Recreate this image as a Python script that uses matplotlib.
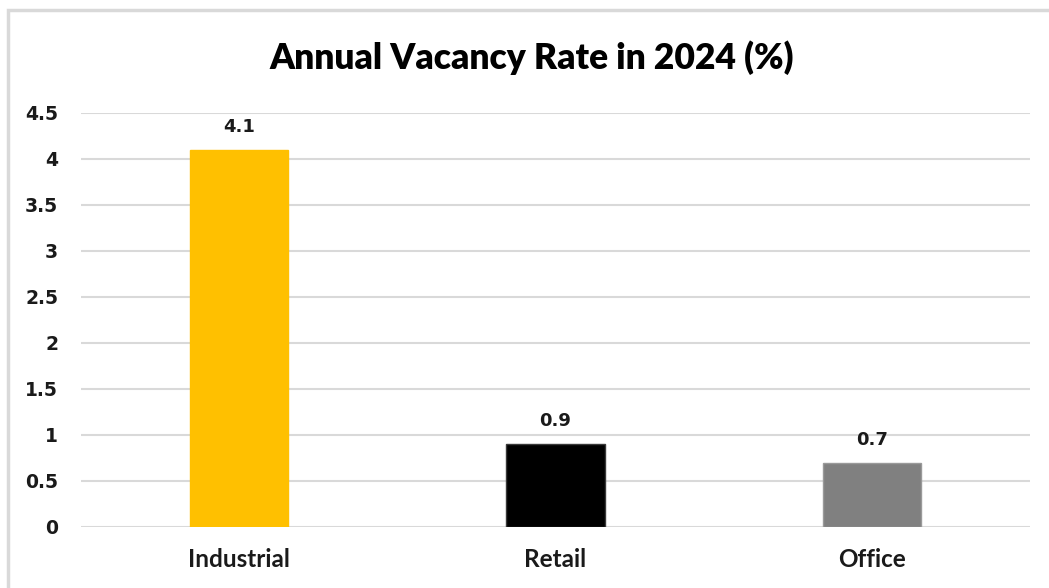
import matplotlib
matplotlib.use("Agg")
import matplotlib.pyplot as plt
from matplotlib.patches import Rectangle

categories = ["Industrial", "Retail", "Office"]
values = [4.1, 0.9, 0.7]
colors = ["#FFC000", "#000000", "#808080"]
edge_colors = ["#FFC000", "#3a3a3a", "#9a9a9a"]
yticks = [0, 0.5, 1, 1.5, 2, 2.5, 3, 3.5, 4, 4.5]
ytick_labels = ["0", "0.5", "1", "1.5", "2", "2.5", "3", "3.5", "4", "4.5"]
title = "Annual Vacancy Rate in 2024 (%)"

W, H = 1049, 588
fig = plt.figure(figsize=(W / 100, H / 100), dpi=100)
fig.patch.set_facecolor("white")

# outer border (top & left visible, continues off-canvas)
fig.patches.append(Rectangle((8 / W, -0.1), 1.2, 1 - 10 / H + 0.1,
                             transform=fig.transFigure, fill=False,
                             edgecolor="#d9d9d9", linewidth=2.5))

ax = fig.add_axes([81 / W, 1 - 527 / H, (1030 - 81) / W, (527 - 113) / H])
x = list(range(len(categories)))
bars = ax.bar(x, values, width=0.31, color=colors, edgecolor=edge_colors,
              linewidth=1, zorder=3)

ax.set_xlim(-0.5, 2.5)
ax.set_ylim(0, 4.5)
ax.set_yticks(yticks)
ax.set_yticklabels(ytick_labels, fontsize=13.5, fontweight="bold",
                   family="DejaVu Sans", color="#1a1a1a")
ax.set_xticks(x)
ax.set_xticklabels(categories, fontsize=17.5, fontweight="bold",
                   family="Lato", color="#1a1a1a")
ax.tick_params(axis="both", length=0)
ax.tick_params(axis="y", pad=16.5)
ax.tick_params(axis="x", pad=15)

ax.grid(axis="y", color="#d9d9d9", linewidth=1.5, zorder=0)
ax.set_axisbelow(True)
for s in ax.spines.values():
    s.set_visible(False)

for rect, v in zip(bars, values):
    ax.annotate(f"{v:g}", (rect.get_x() + rect.get_width() / 2, v),
                xytext=(0, 10), textcoords="offset points",
                ha="center", va="bottom", fontsize=13, fontweight="bold",
                family="DejaVu Sans", color="#1a1a1a")

fig.text(532 / W, 1 - 58 / H, title, ha="center", va="center",
         fontsize=25.5, fontweight="heavy", family="Lato", color="black")

fig.savefig("out.png", dpi=100)
